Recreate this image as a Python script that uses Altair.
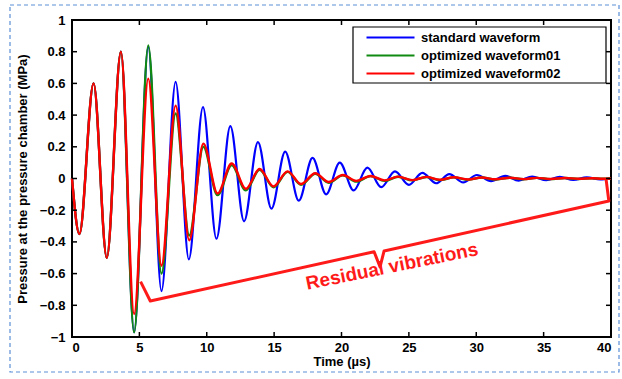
import altair as alt
import pandas as pd

# ---------------- data ----------------
series_names = ["standard waveform", "optimized waveform01", "optimized waveform02"]
series_colors = ["#0000ff", "#108a10", "#ff0000"]

# standard waveform: extrema times (µs) and values (MPa)
blue_t = [0, 0.55, 1.6, 2.58, 3.63, 4.61, 5.66, 6.64, 7.69, 8.67, 9.72,
          10.72, 11.75, 12.77, 13.8, 14.8, 15.82, 16.83, 17.85, 18.86, 19.87,
          20.9, 21.92, 22.95, 23.97, 25.0, 26.0, 27.02, 28.0, 29.03, 30.05,
          31.1, 32.15, 33.15, 34.15, 35.2, 36.2, 37.2, 38.2, 39.2, 40.0]
blue_v = [0, -0.35, 0.60, -0.50, 0.80, -0.97, 0.83, -0.71, 0.61, -0.51, 0.45,
          -0.38, 0.33, -0.27, 0.23, -0.19, 0.17, -0.14, 0.13, -0.10, 0.10,
          -0.075, 0.068, -0.055, 0.045, -0.04, 0.035, -0.03, 0.028, -0.025, 0.022,
          -0.016, 0.017, -0.013, 0.012, -0.011, 0.010, -0.009, 0.008, -0.006, 0.0]

# optimized waveforms: extrema times (µs)
opt_t = [0, 0.55, 1.6, 2.58, 3.63, 4.61, 5.66, 6.64, 7.69, 8.7, 9.75,
         10.8, 11.85, 12.9, 13.92, 14.95, 16.0, 17.0, 18.05, 19.05, 20.1,
         21.1, 22.15, 23.2, 24.2, 25.25, 26.3, 27.3, 28.35, 29.4, 30.4,
         31.4, 32.5, 33.5, 34.5, 35.5, 36.6, 37.6, 38.6, 39.4, 40.0]
green_v = [0, -0.35, 0.60, -0.50, 0.80, -0.97, 0.84, -0.60, 0.41, -0.36, 0.20,
           -0.105, 0.085, -0.075, 0.055, -0.055, 0.042, -0.04, 0.03, -0.027, 0.02,
           -0.02, 0.015, -0.015, 0.011, -0.012, 0.009, -0.01, 0.007, -0.008, 0.006,
           -0.006, 0.005, -0.005, 0.004, -0.004, 0.003, -0.003, 0.002, -0.002, 0.0]
red_v = [0, -0.35, 0.60, -0.50, 0.80, -0.855, 0.63, -0.55, 0.46, -0.39, 0.22,
         -0.095, 0.095, -0.065, 0.06, -0.05, 0.045, -0.035, 0.033, -0.022, 0.022,
         -0.015, 0.016, -0.012, 0.012, -0.01, 0.01, -0.008, 0.008, -0.006, 0.006,
         -0.005, 0.005, -0.004, 0.004, -0.003, 0.003, -0.002, 0.002, -0.002, 0.0]

x_ticks = [0, 5, 10, 15, 20, 25, 30, 35, 40]
y_ticks = [-1, -0.8, -0.6, -0.4, -0.2, 0, 0.2, 0.4, 0.6, 0.8, 1]

# annotation brace (data coordinates) and its label
brace_t = [5.09, 5.81, 22.42, 22.86, 23.16, 39.84, 39.64]
brace_v = [-0.651, -0.773, -0.462, -0.558, -0.457, -0.142, -0.009]
note_text = ["Residual vibrations"]
note_t = [23.75]
note_v = [-0.555]

# ---------------- chart ----------------
W, H = 539, 317
FONT = "Liberation Sans"

xs = alt.Scale(domain=[0, 40], nice=False, zero=False)
ys = alt.Scale(domain=[-1, 1], nice=False)

x_axis = alt.Axis(values=x_ticks, format="d", title="Time (µs)", labelOverlap=False,
                  labelPadding=4, titleY=24, titleBaseline="middle")
y_axis = alt.Axis(values=y_ticks, format=".1~f", labelOverlap=False, tickCount=11,
                  labelExpr="replace(datum.label, '-', '\u2212')",
                  title="Pressure at the pressure chamber (MPa)",
                  labelPadding=7, titleX=-50, titleY=H / 2, titleAngle=270,
                  titleAlign="center", titleBaseline="middle")

color = alt.Color(
    "series:N",
    scale=alt.Scale(domain=series_names, range=series_colors),
    legend=alt.Legend(title=None, orient="none", legendX=293, legendY=8.75,
                      symbolType="stroke", symbolSize=2304, symbolStrokeWidth=2.2,
                      clipHeight=17.5, rowPadding=0,
                      labelFont=FONT, labelFontSize=13, labelFontWeight="bold",
                      labelColor="black", labelOffset=5, padding=0),
)

X = lambda f: alt.X(f, scale=xs, axis=x_axis)
Y = lambda f: alt.Y(f, scale=ys, axis=y_axis)

def series_df(t, v, name):
    return pd.DataFrame({"t": t, "v": v, "series": name, "i": range(len(t))})

def line_layer(df, width):
    return alt.Chart(df).mark_line(strokeWidth=width, interpolate="monotone").encode(
        x=X("t:Q"), y=Y("v:Q"), color=color, order="i:Q",
    )

one = pd.DataFrame({"a": [0]})

outer_border = alt.Chart(one).mark_rect(
    fill="white", fillOpacity=0, stroke="#5b8fd6", strokeWidth=1.2, strokeDash=[4, 3]
).encode(x=alt.value(-62), x2=alt.value(547), y=alt.value(-15), y2=alt.value(352))

legend_box = alt.Chart(one).mark_rect(
    fill="white", stroke="black", strokeWidth=1.2
).encode(x=alt.value(281), x2=alt.value(534), y=alt.value(7), y2=alt.value(63))

blue = line_layer(series_df(blue_t, blue_v, series_names[0]), 2.2)
green = line_layer(series_df(opt_t, green_v, series_names[1]), 2.4)
red = line_layer(series_df(opt_t, red_v, series_names[2]), 2.4)

brace_df = pd.DataFrame({"t": brace_t, "v": brace_v, "i": range(len(brace_t))})
brace = alt.Chart(brace_df).mark_line(color="#ff1a1a", strokeWidth=3, strokeJoin="round").encode(
    x=X("t:Q"), y=Y("v:Q"), order="i:Q"
)

note = alt.Chart(pd.DataFrame({"t": note_t, "v": note_v, "txt": note_text})).mark_text(
    color="#ff1a1a", font=FONT, fontSize=19, fontWeight="bold", angle=348.5,
    align="center", baseline="middle"
).encode(x=X("t:Q"), y=Y("v:Q"), text="txt:N")

xt = pd.DataFrame({"t": x_ticks})
yt = pd.DataFrame({"v": y_ticks})
tick_style = dict(color="black", strokeWidth=1.5)
tick_bottom = alt.Chart(xt).mark_rule(**tick_style).encode(
    x=X("t:Q"), y=alt.value(H), y2=alt.value(H - 5))
tick_top = alt.Chart(xt).mark_rule(**tick_style).encode(
    x=X("t:Q"), y=alt.value(0), y2=alt.value(5))
tick_left = alt.Chart(yt).mark_rule(**tick_style).encode(
    y=Y("v:Q"), x=alt.value(0), x2=alt.value(5))
tick_right = alt.Chart(yt).mark_rule(**tick_style).encode(
    y=Y("v:Q"), x=alt.value(W - 5), x2=alt.value(W))

chart = alt.layer(
    outer_border, legend_box, blue, green, red, brace, note,
    tick_bottom, tick_top, tick_left, tick_right,
).properties(
    width=W, height=H,
    autosize=alt.AutoSizeParams(type="none"),
    padding={"left": 72, "top": 20, "right": 11, "bottom": 42},
    background="white",
).configure_view(
    stroke="black", strokeWidth=2
).configure_axis(
    domain=False, ticks=False, tickSize=0, grid=False, labelOverlap=False,
    labelFont=FONT, labelFontSize=13, labelFontWeight="bold", labelColor="black",
    titleFont=FONT, titleFontSize=13, titleFontWeight="bold", titleColor="black",
)

chart.save("out.html", embed_options={"renderer": "svg", "actions": False})
